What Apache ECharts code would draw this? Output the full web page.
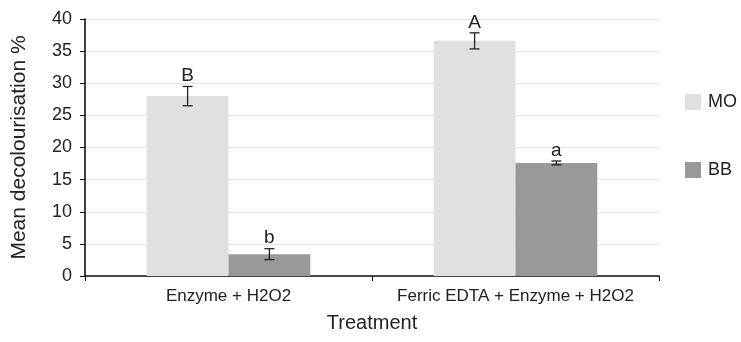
<!DOCTYPE html>
<html><head><meta charset="utf-8">
<script src="https://cdn.jsdelivr.net/npm/echarts@6/dist/echarts.min.js"></script>
<style>html,body{margin:0;padding:0;background:#fff}#c{width:741px;height:342px}</style>
</head><body><div id="c"></div>
<script>
const categories = ['Enzyme + H2O2', 'Ferric EDTA + Enzyme + H2O2'];
const seriesNames = ['MO', 'BB'];
const moValues = [28.0, 36.6];
const bbValues = [3.4, 17.6];
const moErrors = [1.5, 1.25];
const bbErrors = [0.85, 0.3];
const moLetters = ['B', 'A'];
const bbLetters = ['b', 'a'];
const yTicks = [0, 5, 10, 15, 20, 25, 30, 35, 40];

const FONT = 'Liberation Sans, Arial, sans-serif';
const GAP = 0.43;
const chart = echarts.init(document.getElementById('c'));

function errSeries(vals, errs, letters, side) {
  return {
    type: 'custom',
    z: 10,
    data: vals.map((v, i) => [i, v, errs[i]]),
    renderItem: function (params, api) {
      const i = api.value(0), v = api.value(1), e = api.value(2);
      const cw = api.size([1, 0])[0];
      const off = side * cw * (1 - GAP) / 4;
      const c = api.coord([i, v]);
      const x = c[0] + off;
      const yT = api.coord([i, v + e])[1];
      const yB = api.coord([i, v - e])[1];
      const hw = 5;
      const st = { stroke: '#222', lineWidth: 1.3 };
      return {
        type: 'group',
        children: [
          { type: 'line', shape: { x1: x, y1: yT, x2: x, y2: yB }, style: st },
          { type: 'line', shape: { x1: x - hw, y1: yT, x2: x + hw, y2: yT }, style: st },
          { type: 'line', shape: { x1: x - hw, y1: yB, x2: x + hw, y2: yB }, style: st },
          { type: 'text', style: { text: letters[i], x: x, y: yT - 1, textAlign: 'center', textVerticalAlign: 'bottom', font: '19px ' + FONT, fill: '#222' } }
        ]
      };
    }
  };
}

chart.setOption({
  animation: false,
  grid: { left: 85, right: 82, top: 19, bottom: 66 },
  legend: {
    data: seriesNames, orient: 'vertical', left: 685, top: 93, padding: 0,
    itemWidth: 16, itemHeight: 16, itemGap: 50,
    icon: 'rect',
    textStyle: { fontFamily: FONT, fontSize: 18, color: '#222', padding: [0, 0, 0, 2] }
  },
  xAxis: {
    type: 'category', data: categories,
    name: 'Treatment', nameLocation: 'middle', nameGap: 37,
    nameTextStyle: { fontFamily: FONT, fontSize: 20, color: '#222' },
    axisLine: { lineStyle: { color: '#111', width: 1.6 } },
    axisTick: { show: true, length: 5, lineStyle: { color: '#111' } },
    axisLabel: { fontFamily: FONT, fontSize: 17, color: '#222', margin: 12, interval: 0 }
  },
  yAxis: {
    type: 'value', min: 0, max: 40, interval: 5,
    name: 'Mean decolourisation %', nameLocation: 'middle', nameGap: 55,
    nameTextStyle: { fontFamily: FONT, fontSize: 21, color: '#222' },
    axisLine: { show: true, lineStyle: { color: '#111', width: 1.6 } },
    axisTick: { show: true, length: 5, lineStyle: { color: '#111' } },
    axisLabel: { fontFamily: FONT, fontSize: 18, color: '#222', margin: 13,
      formatter: v => yTicks.includes(v) ? String(v) : '' },
    splitLine: { lineStyle: { color: '#e2e2e2', width: 1 } }
  },
  series: [
    { name: 'MO', type: 'bar', data: moValues, barGap: '0%', barCategoryGap: (GAP * 100) + '%', itemStyle: { color: '#e0e0e0' } },
    { name: 'BB', type: 'bar', data: bbValues, barGap: '0%', barCategoryGap: (GAP * 100) + '%', itemStyle: { color: '#999999' } },
    errSeries(moValues, moErrors, moLetters, -1),
    errSeries(bbValues, bbErrors, bbLetters, 1)
  ]
});
</script></body></html>
